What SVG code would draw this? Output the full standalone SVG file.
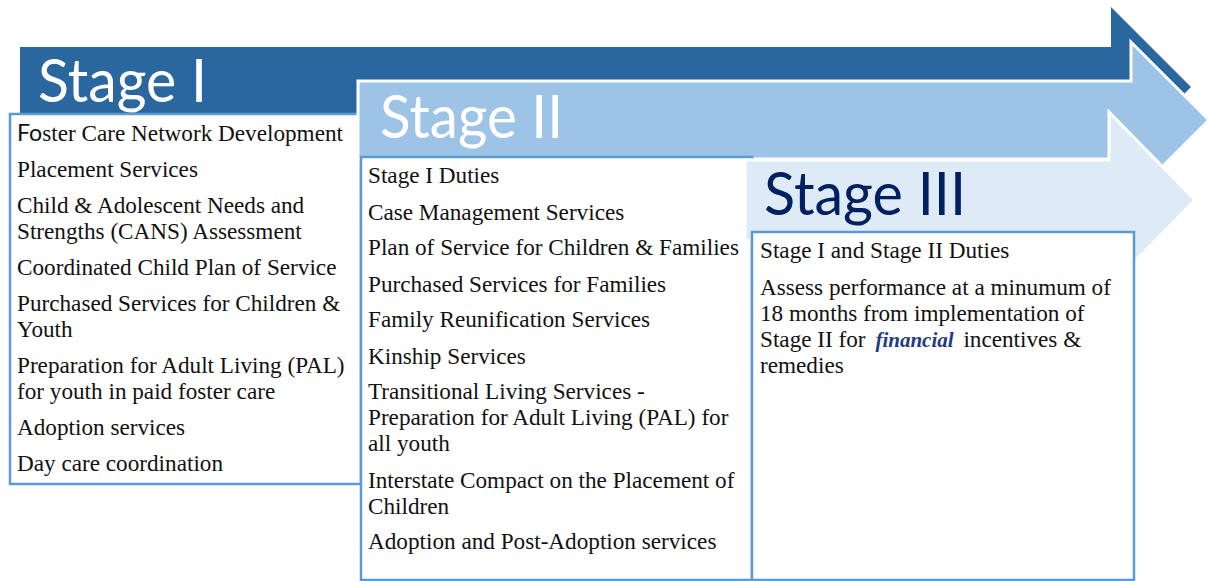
<svg xmlns="http://www.w3.org/2000/svg" width="1208" height="581" viewBox="0 0 1208 581">
  <style>
    .title { font-family: Lato, "Open Sans", "Liberation Sans", sans-serif; font-size: 60px; }
    .t1 { fill: #ffffff; }
    .t3 { fill: #002060; }
    .item { font-size: 23.2px; fill: #111111; }
    .em { font-weight: bold; font-style: italic; fill: #1f3b80; font-size: 21px; }
    .box { fill: #ffffff; stroke: #5b9bd5; stroke-width: 2.5; }
    .arrow1 { fill: #2a679e; }
    .arrow2 { fill: #9dc3e6; stroke: #ffffff; stroke-width: 3; }
    .arrow3 { fill: #deebf7; stroke: #ffffff; stroke-width: 3; }
  </style>

  <rect width="1208" height="581" fill="#ffffff"/>

  <!-- Stage I: banner arrow + duty list -->
  <g id="stage1">
    <polygon class="arrow1" points="20,47 1111,47 1111,7 1191,87 1111,167 1111,127 20,127"/>
    <text class="title t1" x="38" y="102" textLength="169" lengthAdjust="spacingAndGlyphs">Stage I</text>
    <rect class="box" x="10" y="114" width="351" height="370"/>
    <text class="item" font-family="Liberation Serif" x="17" y="141"><tspan font-family="Lato">Fo</tspan>ster Care Network Development</text>
    <text class="item" font-family="Liberation Serif" x="17" y="177">Placement Services</text>
    <text class="item" font-family="Liberation Serif" x="17" y="213">Child &amp; Adolescent Needs and</text>
    <text class="item" font-family="Liberation Serif" x="17" y="239">Strengths (CANS) Assessment</text>
    <text class="item" font-family="Liberation Serif" x="17" y="275">Coordinated Child Plan of Service</text>
    <text class="item" font-family="Liberation Serif" x="17" y="311">Purchased Services for Children &amp;</text>
    <text class="item" font-family="Liberation Serif" x="17" y="337">Youth</text>
    <text class="item" font-family="Liberation Serif" x="17" y="373">Preparation for Adult Living (PAL)</text>
    <text class="item" font-family="Liberation Serif" x="17" y="399">for youth in paid foster care</text>
    <text class="item" font-family="Liberation Serif" x="17" y="435">Adoption services</text>
    <text class="item" font-family="Liberation Serif" x="17" y="471">Day care coordination</text>
  </g>

  <!-- Stage II: banner arrow + duty list -->
  <g id="stage2">
    <polygon class="arrow2" points="358,81 1131,81 1131,42 1209,120 1131,198 1131,159 358,159"/>
    <text class="title t1" x="380" y="138" textLength="183" lengthAdjust="spacingAndGlyphs">Stage II</text>
    <rect class="box" x="361" y="157" width="391" height="423"/>
    <text class="item" font-family="Liberation Serif" x="368" y="183">Stage I Duties</text>
    <text class="item" font-family="Liberation Serif" x="368" y="220">Case Management Services</text>
    <text class="item" font-family="Liberation Serif" x="368" y="255">Plan of Service for Children &amp; Families</text>
    <text class="item" font-family="Liberation Serif" x="368" y="292">Purchased Services for Families</text>
    <text class="item" font-family="Liberation Serif" x="368" y="327">Family Reunification Services</text>
    <text class="item" font-family="Liberation Serif" x="368" y="364">Kinship Services</text>
    <text class="item" font-family="Liberation Serif" x="368" y="399">Transitional Living Services -</text>
    <text class="item" font-family="Liberation Serif" x="368" y="425">Preparation for Adult Living (PAL) for</text>
    <text class="item" font-family="Liberation Serif" x="368" y="451">all youth</text>
    <text class="item" font-family="Liberation Serif" x="368" y="488">Interstate Compact on the Placement of</text>
    <text class="item" font-family="Liberation Serif" x="368" y="514">Children</text>
    <text class="item" font-family="Liberation Serif" x="368" y="549">Adoption and Post-Adoption services</text>
  </g>

  <!-- Stage III: banner arrow + duty list -->
  <g id="stage3">
    <polygon class="arrow3" points="745,160 1109,160 1109,112 1195,200 1109,288 1109,240 745,240"/>
    <text class="title t3" x="764" y="215" textLength="202" lengthAdjust="spacingAndGlyphs">Stage III</text>
    <rect class="box" x="752" y="232" width="382" height="348"/>
    <text class="item" font-family="Liberation Serif" x="760" y="258">Stage I and Stage II Duties</text>
    <text class="item" font-family="Liberation Serif" x="760" y="295">Assess performance at a minumum of</text>
    <text class="item" font-family="Liberation Serif" x="760" y="321">18 months from implementation of</text>
    <text class="item" font-family="Liberation Serif" x="760" y="347">Stage II for <tspan class="em" dx="4">financial</tspan> <tspan dx="4">incentives &amp;</tspan></text>
    <text class="item" font-family="Liberation Serif" x="760" y="373">remedies</text>
  </g>
</svg>
